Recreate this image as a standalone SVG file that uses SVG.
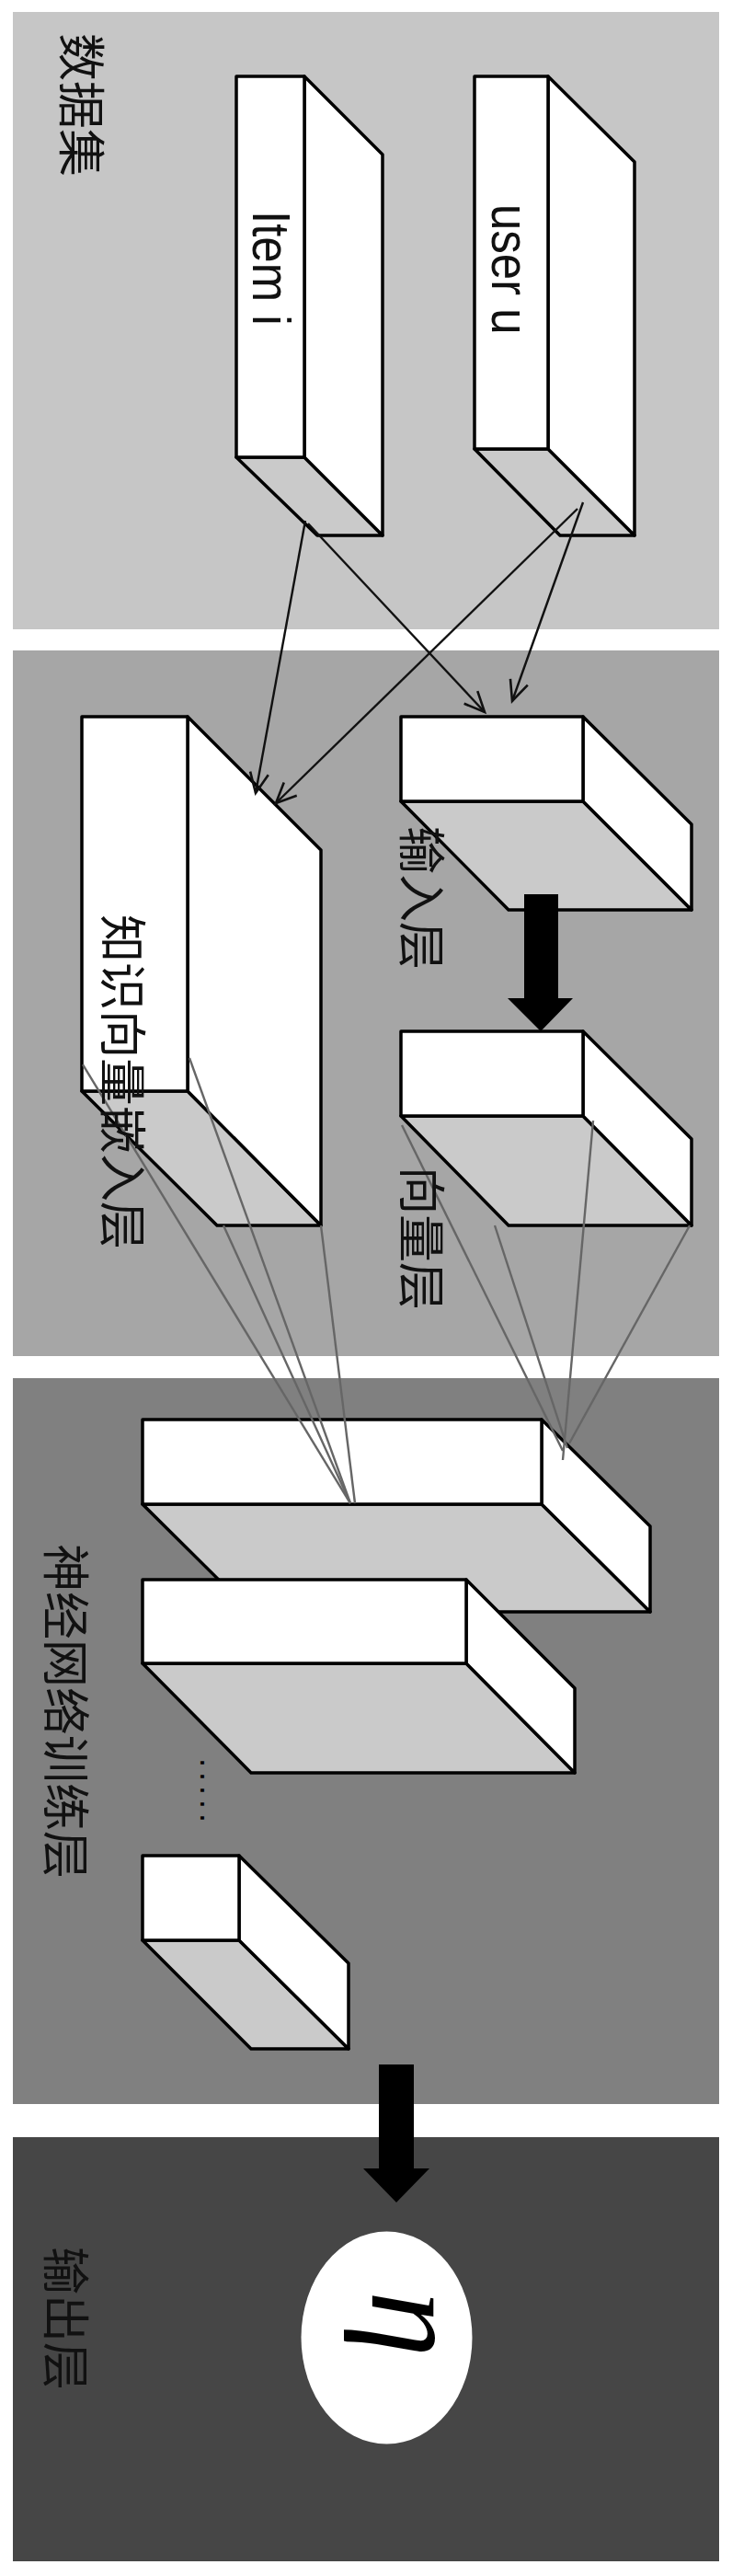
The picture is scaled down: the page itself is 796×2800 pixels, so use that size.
<svg xmlns="http://www.w3.org/2000/svg" width="796" height="2800" viewBox="0 0 796 2800">
<style>
.face{fill:#fff;stroke:#000;stroke-width:3.5;stroke-linejoin:round}
.under{fill:#cacaca;stroke:#000;stroke-width:3.5;stroke-linejoin:round}
.thin{fill:none;stroke:#111;stroke-width:2.4}
.gray{fill:none;stroke:#666;stroke-width:2.4}
.block{fill:#000;stroke:none}
.cjk{font-family:"Noto Sans CJK SC","Noto Sans",sans-serif;font-size:52px;fill:#111}
.lat{font-family:"Liberation Sans",Arial,sans-serif;font-size:51px;fill:#111}
</style>
<defs>
<marker id="open" markerUnits="userSpaceOnUse" markerWidth="30" markerHeight="30" refX="24" refY="12" orient="auto">
<path d="M2 2 L24 12 L2 22" fill="none" stroke="#111" stroke-width="2.6"/>
</marker>
</defs>
<rect width="796" height="2800" fill="#fff"/>
<g id="panels">
<rect x="14" y="13" width="768" height="671" fill="#c6c6c6"/>
<rect x="14" y="707" width="768" height="767" fill="#a6a6a6"/>
<rect x="14" y="1498" width="768" height="789" fill="#808080"/>
<rect x="14" y="2323" width="768" height="461" fill="#464646"/>
</g>
<g id="item">
<path class="under" d="M257 497H331L416 582H345Z"/>
<path class="face" d="M331 83L416 168V582L331 497Z"/>
<rect class="face" x="257" y="83" width="74" height="414"/>
<text class="lat" transform="translate(275 229) rotate(90) scale(1 1.12)">Item i</text>
</g>
<g id="user">
<path class="under" d="M516 488H596L690 582H609Z"/>
<path class="face" d="M596 83L690 176V582L596 488Z"/>
<rect class="face" x="516" y="83" width="80" height="405"/>
<text class="lat" transform="translate(535 222) rotate(90) scale(1 1.12)">user u</text>
</g>
<g id="knowledge">
<path class="under" d="M89 1186H204L349 1332H236Z"/>
<path class="face" d="M204 779L349 924V1332L204 1186Z"/>
<rect class="face" x="89" y="779" width="115" height="407"/>
</g>
<g id="input">
<path class="under" d="M436 871H634L752 989H553Z"/>
<path class="face" d="M634 779L752 896V989L634 871Z"/>
<rect class="face" x="436" y="779" width="198" height="92"/>
</g>
<g id="vector">
<path class="under" d="M436 1213H634L752 1332H553Z"/>
<path class="face" d="M634 1121L752 1238V1332L634 1213Z"/>
<rect class="face" x="436" y="1121" width="198" height="92"/>
</g>
<g id="net1">
<path class="under" d="M155 1635H589L707 1752H273Z"/>
<path class="face" d="M589 1543L707 1659V1752L589 1635Z"/>
<rect class="face" x="155" y="1543" width="434" height="92"/>
</g>
<g id="net2">
<path class="under" d="M155 1808H507L625 1927H273Z"/>
<path class="face" d="M507 1717L625 1835V1927L507 1808Z"/>
<rect class="face" x="155" y="1717" width="352" height="91"/>
</g>
<g id="net3">
<path class="under" d="M155 2109H260L379 2227H273Z"/>
<path class="face" d="M260 2017L379 2134V2227L260 2109Z"/>
<rect class="face" x="155" y="2017" width="105" height="92"/>
</g>
<g id="output">
<ellipse cx="420.5" cy="2541" rx="93" ry="115.5" fill="#fff"/>
<text transform="translate(405 2490) rotate(90)" font-family="'Liberation Serif',serif" font-style="italic" font-size="145" fill="#000">η</text>
</g>
<g id="connectors">
<line class="thin" x1="332" y1="566" x2="278" y2="862" marker-end="url(#open)"/>
<line class="thin" x1="335" y1="569" x2="527" y2="774" marker-end="url(#open)"/>
<line class="thin" x1="628" y1="553" x2="300" y2="873" marker-end="url(#open)"/>
<line class="thin" x1="634" y1="546" x2="557" y2="762" marker-end="url(#open)"/>
<line class="gray" x1="90" y1="1157" x2="381" y2="1634"/>
<line class="gray" x1="206" y1="1150" x2="381" y2="1634"/>
<line class="gray" x1="243" y1="1332" x2="381" y2="1634"/>
<line class="gray" x1="349" y1="1332" x2="386" y2="1634"/>
<line class="gray" x1="437" y1="1223" x2="612" y2="1577"/>
<line class="gray" x1="538" y1="1332" x2="617" y2="1574"/>
<line class="gray" x1="645" y1="1218" x2="612" y2="1587"/>
<line class="gray" x1="750" y1="1332" x2="619" y2="1569"/>
<path class="block" d="M570 972H607V1085H623L588 1121L552 1085H570Z"/>
<path class="block" d="M412 2244H450V2357H467L431 2394L395 2357H412Z"/>
</g>
<g id="labels">
<text class="cjk" transform="translate(69 36) rotate(90)">数据集</text>
<text class="cjk" transform="translate(114 994) rotate(90)">知识向量嵌入层</text>
<text class="cjk" transform="translate(439 898) rotate(90)">输入层</text>
<text class="cjk" transform="translate(439 1268) rotate(90)">向量层</text>
<text class="cjk" transform="translate(52 1678) rotate(90)">神经网络训练层</text>
<text class="cjk" transform="translate(52 2442) rotate(90)">输出层</text>
<text transform="translate(218 1911) rotate(90)" font-family="'Liberation Sans',sans-serif" font-size="36" letter-spacing="5" fill="#000">.....</text>
</g>
</svg>
